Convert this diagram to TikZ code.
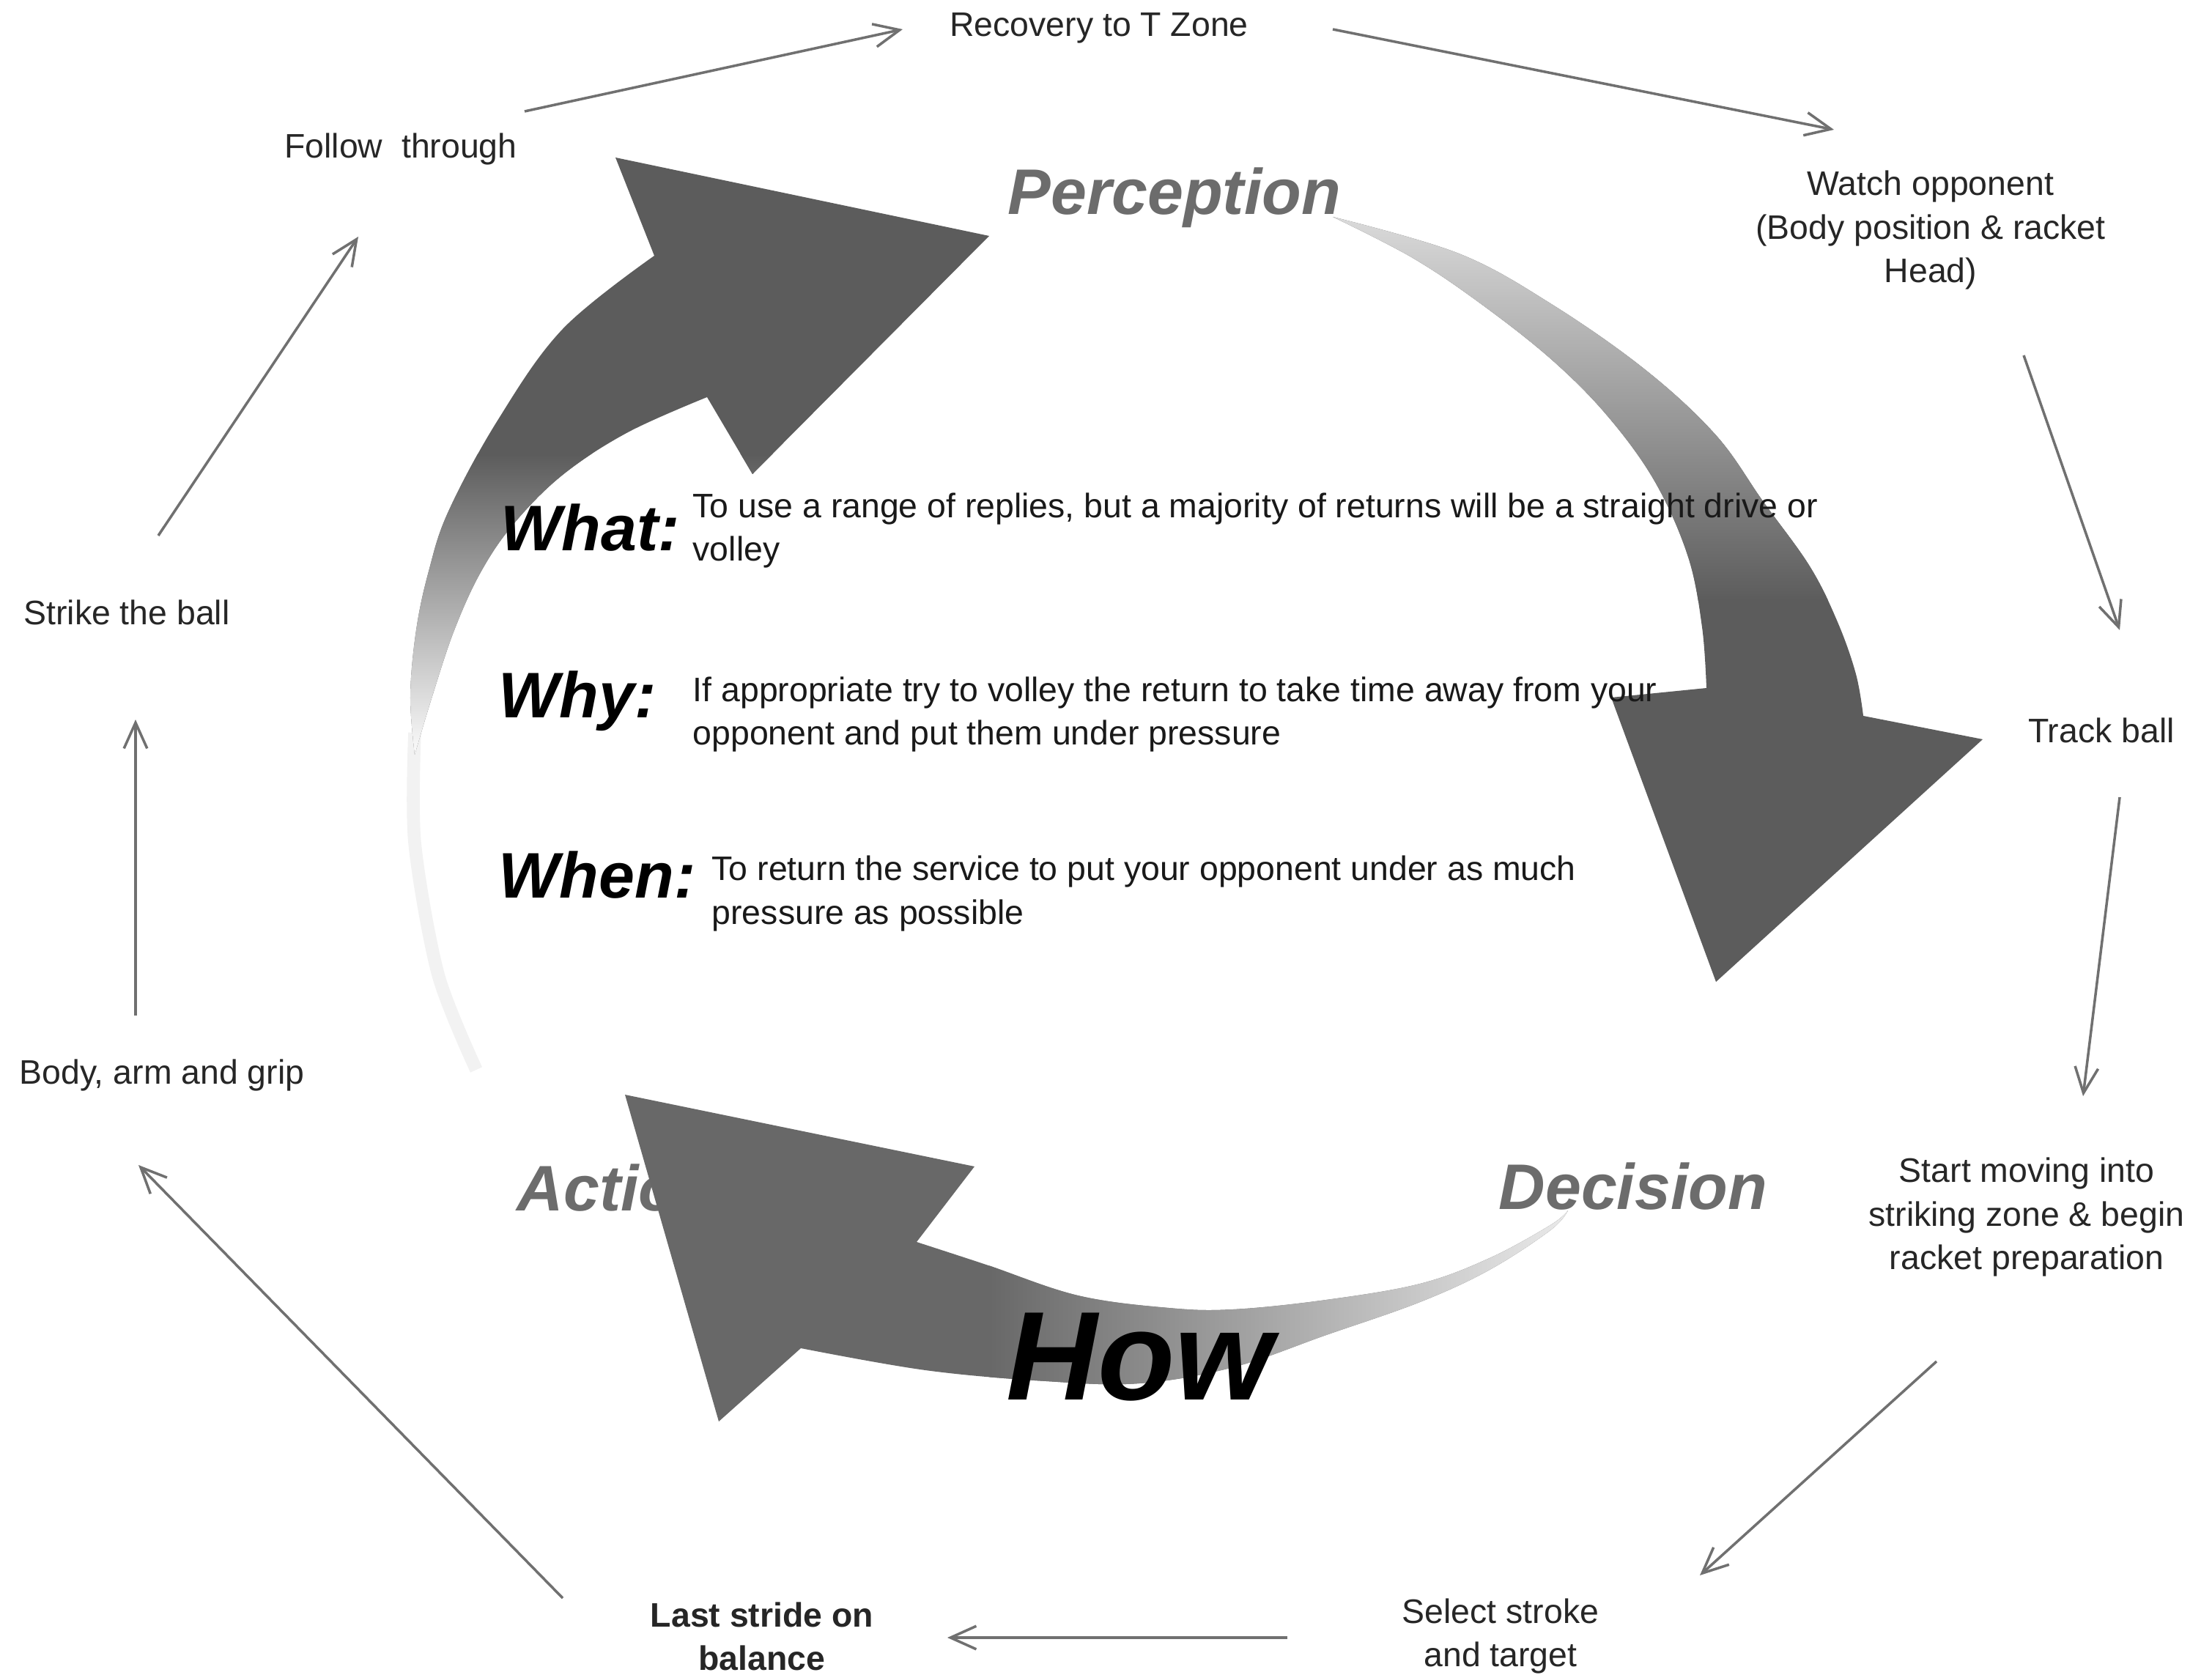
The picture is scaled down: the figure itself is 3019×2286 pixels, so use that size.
\documentclass[tikz,border=0pt]{standalone}
\usepackage{fontspec}
\setmainfont{Liberation Sans}
\usetikzlibrary{arrows.meta, calc}
\definecolor{headgray}{RGB}{92,92,92}
\definecolor{actgray}{RGB}{104,104,104}
\definecolor{wordgray}{RGB}{108,108,108}
\definecolor{linkgray}{RGB}{112,112,112}
\newcommand{\stagefont}{\fontsize{13.2}{16.8}\selectfont}
\newcommand{\bigword}{\fontsize{25}{30}\selectfont\bfseries\itshape}

% outlines of the three curved arrows (picture units = pixels)
\newcommand{\percshape}{(893,349) -- (840,215) -- (1350,322) -- (1027,647) -- (965,542)
  -- plot[smooth, tension=0.6] coordinates {(965,542) (857,590) (768,648) (701,715) (656,781) (620,860) (590,950) (566,1030)}
  -- plot[smooth, tension=0.6] coordinates {(566,1030) (560,950) (568,860) (585,780) (612,698) (679,574) (768,449) (893,349)} -- cycle}
\newcommand{\decshape}{plot[smooth, tension=0.6] coordinates {(1819,296) (1991,346) (2119,416) (2246,505) (2342,594) (2406,684) (2470,773) (2508,849) (2533,920) (2543,977)}
  -- (2706,1009) -- (2342,1340) -- (2199,952) -- (2329,939)
  -- plot[smooth, tension=0.6] coordinates {(2329,939) (2323,856) (2304,760) (2259,658) (2195,569) (2119,492) (2023,416) (1928,352) (1819,296)} -- cycle}
\newcommand{\actshape}{(853,1494) -- (1330,1592) -- (1251,1695)
  -- plot[smooth, tension=0.6] coordinates {(1251,1695) (1346,1726) (1471,1768) (1595,1785) (1683,1787) (1810,1774) (1938,1752) (2033,1717) (2116,1672) (2140,1652)}
  -- plot[smooth, tension=0.6] coordinates {(2140,1652) (2116,1679) (2033,1733) (1938,1777) (1810,1822) (1683,1866) (1555,1888) (1428,1885) (1263,1870) (1093,1840)}
  -- (981,1940) -- cycle}

\begin{document}
\begin{tikzpicture}[x=0.01cm, y=-0.01cm,
    stage/.style={font=\stagefont, text=black!85, align=center, inner sep=0pt},
    body/.style={font=\stagefont, text=black!90, align=left, anchor=base west, inner sep=0pt},
    phase/.style={font=\bigword, text=wordgray, anchor=base west, inner sep=0pt},
    question/.style={font=\bigword, text=black, anchor=base west, inner sep=0pt},
    link/.style={draw=linkgray, line width=1pt, -{Straight Barb[length=10pt, width=9pt]}}]
\path[use as bounding box, fill=white] (0,0) rectangle (3019,2286);

% faint ring on the left
\draw[black!5, line width=5pt] plot[smooth] coordinates {(566,1000) (566,1150) (598,1330) (650,1460)};

% Action word sits under the arrow head
\node[phase] (action) at (705,1652) {Action};

% Perception arrow
\fill[headgray] \percshape;
\begin{scope}
  \clip \percshape;
  \shade[top color=headgray, bottom color=white] (450,620) rectangle (1400,1040);
\end{scope}

% Decision arrow
\fill[headgray] \decshape;
\begin{scope}
  \clip \decshape;
  \shade[top color=black!14, bottom color=headgray] (1750,290) rectangle (2750,820);
\end{scope}

% Action arrow
\fill[actgray] \actshape;
\begin{scope}
  \clip \actshape;
  \shade[left color=actgray, right color=black!8] (1350,1600) rectangle (2145,1950);
\end{scope}

% phase words
\node[phase] (perception) at (1375,293) {Perception};
\node[phase] (decision) at (2045,1650) {Decision};
\node[question, font=\fontsize{49}{56}\selectfont\bfseries\itshape] (how) at (1373,1910) {How};

% what / why / when (base = last line)
\node[question] (whatq) at (683,752) {What:};
\node[body] (whattxt) at (945,766) {To use a range of replies, but a majority of returns will be a straight drive or\\volley};
\node[question] (whyq) at (680,979) {Why:};
\node[body] (whytxt) at (945,1017) {If appropriate try to volley the return to take time away from your\\opponent and put them under pressure};
\node[question] (whenq) at (680,1225) {When:};
\node[body] (whentxt) at (971,1261) {To return the service to put your opponent under as much\\pressure as possible};

% stages round the cycle
\node[stage] (recovery) at (1500,38) {Recovery to T Zone};
\node[stage] (watch) at (2635,314) {Watch opponent\\(Body position \& racket\\Head)};
\node[stage] (track) at (2868,997) {Track ball};
\node[stage] (startmove) at (2766,1661) {Start moving into\\striking zone \& begin\\racket preparation};
\node[stage] (select) at (2048,2233) {Select stroke\\and target};
\node[stage, font=\stagefont\bfseries] (laststride) at (1040,2233) {Last stride on\\balance};
\node[stage] (body) at (221,1467) {Body, arm and grip};
\node[stage] (strike) at (173,836) {Strike the ball};
\node[stage] (follow) at (547,204) {Follow~ through};

% thin connectors
\draw[link] ($(follow)+(169,-52)$) -- ($(recovery)+(-268,2)$);
\draw[link] ($(recovery)+(319,2)$) -- ($(watch)+(-132,-137)$);
\draw[link] ($(watch)+(127,171)$) -- ($(track)+(25,-137)$);
\draw[link] ($(track)+(25,91)$) -- ($(startmove)+(77,-165)$);
\draw[link] ($(startmove)+(-123,197)$) -- ($(select)+(272,-83)$);
\draw[link] ($(select)+(-291,2)$) -- ($(laststride)+(253,2)$);
\draw[link] ($(laststride)+(-272,-52)$) -- ($(body)+(-32,123)$);
\draw[link] ($(body)+(-36,-81)$) -- ($(strike)+(12,146)$);
\draw[link] ($(strike)+(43,-105)$) -- ($(follow)+(-58,119)$);
\end{tikzpicture}
\end{document}
